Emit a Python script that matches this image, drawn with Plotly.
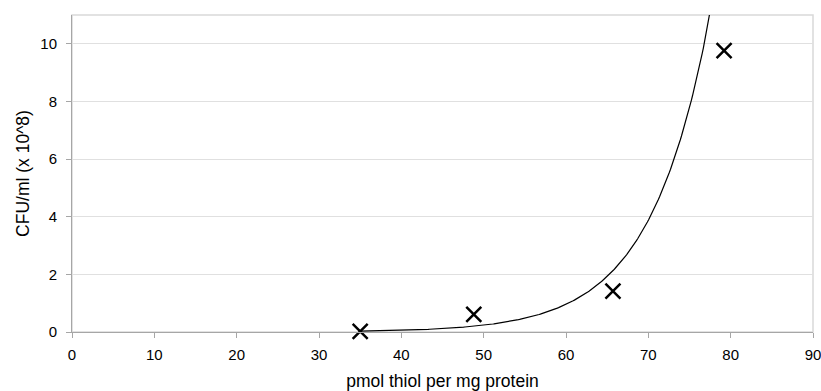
import numpy as np
import plotly.graph_objects as go

# data
thiol_pmol = [35.0, 48.8, 65.7, 79.2]
cfu_e8 = [0.02, 0.61, 1.42, 9.76]

# exponential trendline y = exp(trend_a + trend_b * x)
trend_a = -8.417
trend_b = 0.1396

x_ticks = [0, 10, 20, 30, 40, 50, 60, 70, 80, 90]
y_ticks = [0, 2, 4, 6, 8, 10]

xs = np.linspace(min(thiol_pmol), max(thiol_pmol), 300)
ys = np.exp(trend_a + trend_b * xs)

fig = go.Figure()
fig.add_trace(go.Scatter(x=xs, y=ys, mode="lines",
                         line=dict(color="black", width=1.2),
                         hoverinfo="skip", showlegend=False, cliponaxis=True))
fig.add_trace(go.Scatter(x=thiol_pmol, y=cfu_e8, mode="markers",
                         marker=dict(symbol="x-thin", size=15,
                                     line=dict(color="black", width=2.5)),
                         showlegend=False, cliponaxis=False))

fig.add_shape(type="rect", xref="paper", yref="paper", x0=0, x1=1, y0=0, y1=1,
              line=dict(color="#d9d9d9", width=1.5), layer="below")

tick_font = dict(family="Liberation Sans, Arial, sans-serif", size=15, color="black")
title_font = dict(family="Liberation Sans, Arial, sans-serif", size=17.5, color="black")
fig.update_layout(
    width=821, height=391,
    margin=dict(l=72, r=8, t=15, b=59),
    paper_bgcolor="white", plot_bgcolor="white",
    font=tick_font,
    xaxis=dict(range=[0, 90], tickvals=x_ticks, showgrid=False,
               showline=True, linecolor="#a6a6a6", linewidth=1,
               ticks="outside", ticklen=5, tickcolor="#a6a6a6",
               zeroline=False, automargin=False, tickfont=tick_font,
               ticklabelstandoff=4, ticklabeloverflow="allow",
               title=dict(text="pmol thiol per mg protein", standoff=12,
                          font=title_font)),
    yaxis=dict(range=[0, 11], tickvals=y_ticks, showgrid=True,
               gridcolor="#e0e0e0", gridwidth=1.3,
               showline=True, linecolor="#a6a6a6", linewidth=1,
               ticks="outside", ticklen=5, tickcolor="#a6a6a6",
               zeroline=False, automargin=False, tickfont=tick_font,
               ticklabelstandoff=6,
               title=dict(text="CFU/ml (x 10^8)", standoff=6, font=title_font)),
)
fig.write_html("out.html", config={"displayModeBar": False},
               post_script="document.body.style.margin='0';document.body.style.overflow='hidden';")
